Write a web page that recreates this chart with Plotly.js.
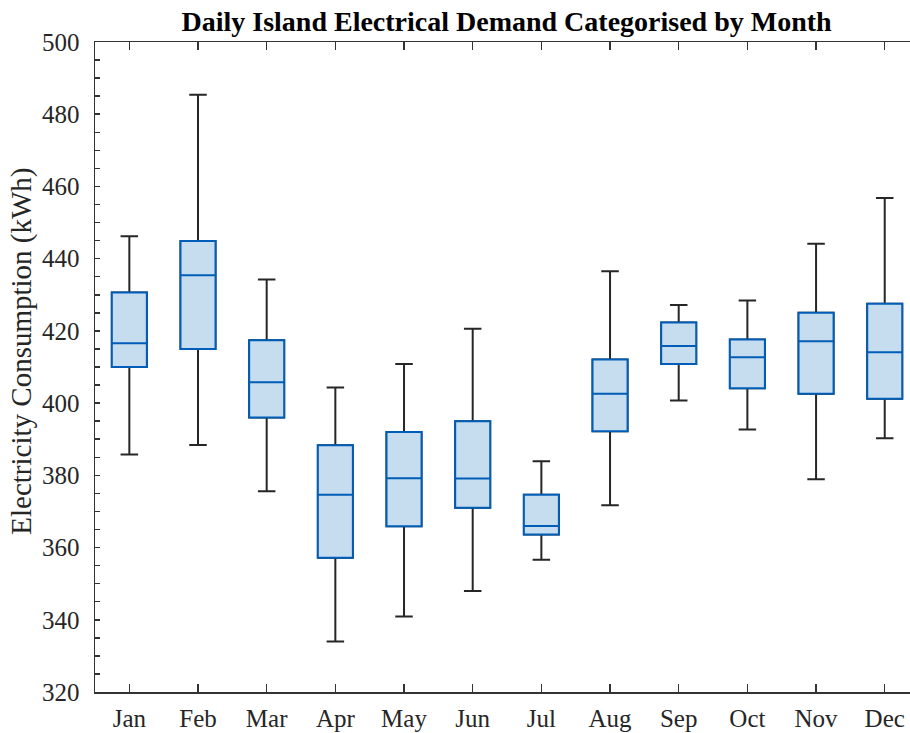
<!DOCTYPE html>
<html>
<head>
<meta charset="utf-8">
<script src="https://cdn.plot.ly/plotly-3.0.1.min.js"></script>
<style>
html,body{margin:0;padding:0;background:#fff;overflow:hidden;}
#chart{width:910px;height:733px;}
</style>
</head>
<body>
<div id="chart"></div>
<script>
const months = ['Jan','Feb','Mar','Apr','May','Jun','Jul','Aug','Sep','Oct','Nov','Dec'];
const lowerWhisker = [385.8, 388.4, 375.6, 334.0, 340.9, 348.0, 356.6, 371.7, 400.7, 392.7, 378.9, 390.3];
const q1Values     = [410.0, 415.0, 396.0, 357.2, 365.9, 371.0, 363.6, 392.2, 410.8, 404.1, 402.6, 401.2];
const medianValues = [416.6, 435.4, 405.8, 374.6, 379.2, 379.1, 366.0, 402.6, 415.8, 412.7, 417.1, 414.1];
const q3Values     = [430.6, 444.9, 417.4, 388.3, 392.0, 395.0, 374.6, 412.1, 422.3, 417.6, 425.0, 427.5];
const upperWhisker = [446.2, 485.4, 434.2, 404.3, 410.8, 420.6, 383.9, 436.5, 427.2, 428.4, 444.1, 456.8];
const yTickVals = [320, 340, 360, 380, 400, 420, 440, 460, 480, 500];

const whiskerTrace = {
  type: 'box',
  x: months,
  q1: q1Values,
  median: medianValues,
  q3: q3Values,
  lowerfence: lowerWhisker,
  upperfence: upperWhisker,
  width: 0.51,
  whiskerwidth: 0.5,
  line: {color: '#262626', width: 2},
  fillcolor: 'rgba(0,0,0,0)',
  hoverinfo: 'skip',
  showlegend: false
};
const boxTrace = {
  type: 'box',
  x: months,
  q1: q1Values,
  median: medianValues,
  q3: q3Values,
  lowerfence: q1Values,
  upperfence: q3Values,
  width: 0.51,
  whiskerwidth: 0,
  line: {color: '#005EB8', width: 2},
  fillcolor: '#C6DCEF',
  hoverinfo: 'skip',
  showlegend: false
};

const axisColor = '#333333';
const serif = '"Liberation Serif", "Times New Roman", serif';
const layout = {
  width: 910,
  height: 733,
  margin: {l: 95, r: 0, t: 42, b: 41, pad: 0},
  paper_bgcolor: '#ffffff',
  plot_bgcolor: '#ffffff',
  boxmode: 'overlay',
  font: {family: serif, color: '#262626', size: 25},
  title: {
    text: '<b>Daily Island Electrical Demand Categorised by Month</b>',
    font: {family: serif, size: 28, color: '#000000'},
    x: 0.505, xref: 'paper', xanchor: 'center',
    y: 0.985, yref: 'container', yanchor: 'top'
  },
  xaxis: {
    type: 'category',
    categoryorder: 'array',
    categoryarray: months,
    range: [-0.5, 11.368],
    showline: true, linecolor: axisColor, linewidth: 1.5,
    mirror: 'ticks',
    ticks: 'inside', ticklen: 8, tickwidth: 1.5, tickcolor: axisColor,
    showgrid: false, zeroline: false,
    tickfont: {family: serif, size: 25, color: '#262626'},
    ticklabelstandoff: 3
  },
  yaxis: {
    range: [320, 500],
    tickvals: yTickVals,
    showline: true, linecolor: axisColor, linewidth: 1.5,
    mirror: false,
    ticks: 'inside', ticklen: 5, tickwidth: 1.5, tickcolor: axisColor,
    minor: {dtick: 5, ticks: 'inside', ticklen: 5, tickwidth: 1.5, tickcolor: axisColor, showgrid: false},
    showgrid: false, zeroline: false,
    tickfont: {family: serif, size: 25, color: '#262626'},
    ticklabelstandoff: 9
  },
  annotations: [{
    text: 'Electricity Consumption (kWh)',
    textangle: -90,
    xref: 'paper', yref: 'paper',
    x: -0.0896, y: 0.525,
    xanchor: 'center', yanchor: 'middle',
    showarrow: false,
    font: {family: serif, size: 29, color: '#262626'}
  }]
};

Plotly.newPlot('chart', [whiskerTrace, boxTrace], layout, {staticPlot: true, displayModeBar: false});
</script>
</body>
</html>
